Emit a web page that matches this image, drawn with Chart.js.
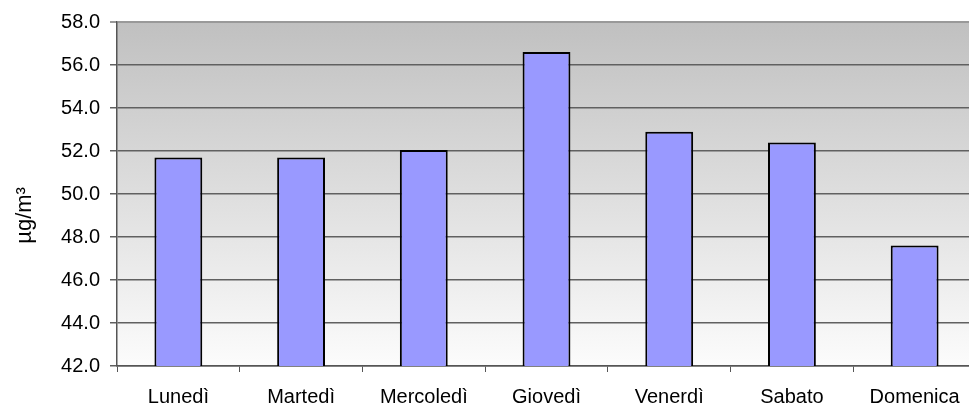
<!DOCTYPE html>
<html>
<head>
<meta charset="utf-8">
<script src="https://cdn.jsdelivr.net/npm/chart.js@4/dist/chart.umd.min.js"></script>
<style>
  html, body { margin: 0; padding: 0; background: #fff; overflow: hidden; }
  #wrap { width: 969px; height: 410px; overflow: hidden; }
</style>
</head>
<body>
<div id="wrap"><canvas id="bar-chart" width="977" height="410"></canvas></div>
<script>
const giorni = ["Lunedì", "Martedì", "Mercoledì", "Giovedì", "Venerdì", "Sabato", "Domenica"];
const valori = [51.7, 51.7, 52.05, 56.6, 52.9, 52.4, 47.6];
const yMin = 42, yMax = 58, yStep = 2;

// sfondo grigio sfumato dell'area del grafico
const sfondo = {
  id: 'sfondo',
  beforeDraw(chart) {
    const a = chart.chartArea, ctx = chart.ctx;
    const g = ctx.createLinearGradient(0, a.top, 0, a.bottom);
    g.addColorStop(0, '#c0c0c0');
    g.addColorStop(1, '#fcfcfc');
    ctx.save();
    ctx.fillStyle = g;
    ctx.fillRect(a.left, a.top, a.right - a.left, a.bottom - a.top);
    ctx.restore();
  }
};

Chart.defaults.font.family = '"Liberation Sans", Arial, sans-serif';
Chart.defaults.color = '#000';

new Chart(document.getElementById("bar-chart"), {
  type: 'bar',
  data: {
    labels: giorni,
    datasets: [{
      label: "µg/m³",
      data: valori,
      backgroundColor: "#9999ff",
      borderColor: "#000",
      borderWidth: 2,
      barPercentage: 0.39,
      categoryPercentage: 1
    }]
  },
  options: {
    responsive: false,
    animation: false,
    layout: { padding: { top: 21, right: 1, left: 0, bottom: 0 } },
    plugins: { legend: { display: false }, tooltip: { enabled: false } },
    scales: {
      x: {
        afterFit: s => { s.height = 44; },
        grid: { offset: true, drawOnChartArea: false, drawTicks: true, tickLength: 6, color: '#555' },
        border: { color: '#555', width: 1.5 },
        ticks: { font: { size: 20 }, padding: 13, maxRotation: 0 }
      },
      y: {
        min: yMin, max: yMax,
        afterFit: s => { s.width = 117; },
        ticks: { stepSize: yStep, font: { size: 20 }, padding: 10, callback: v => v.toFixed(1) },
        grid: {
          color: c => c.tick && c.tick.value === yMax ? '#999' : '#606060',
          lineWidth: c => c.tick && c.tick.value === yMax ? 2 : 1.5,
          tickLength: 7
        },
        border: { color: '#555', width: 1.5 },
        title: {
          display: true,
          text: 'µg/m³' + '\u00a0'.repeat(7),
          font: { size: 22 },
          padding: { top: 12, bottom: 0 }
        }
      }
    }
  },
  plugins: [sfondo]
});
</script>
</body>
</html>
